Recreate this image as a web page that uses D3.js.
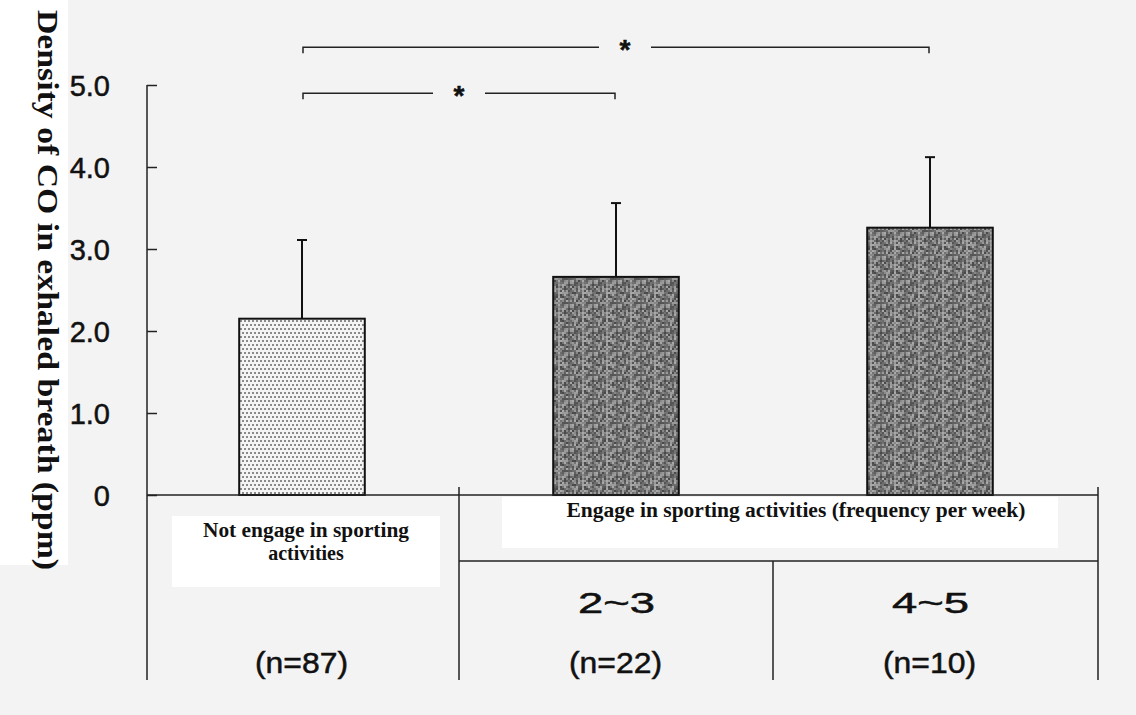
<!DOCTYPE html>
<html lang="en">
<head>
    <meta charset="UTF-8">
    <title>CO in exhaled breath</title>
    <script src="https://cdnjs.cloudflare.com/ajax/libs/d3/7.8.2/d3.min.js"></script>
    <style>
        body { margin: 0; background: #f3f3f3; }
        svg { display: block; }
        .num { font-family: "Liberation Sans Narrow", "Liberation Sans", Arial, sans-serif; fill: #111; stroke: #111; stroke-width: 0.5px; }
        .serif { font-family: "Liberation Serif", "Times New Roman", serif; font-weight: bold; fill: #111; }
    </style>
</head>
<body>
    <div class="container"></div>
    <script>
        // data
        const groups = ['none', '2~3', '4~5'];
        const means = [2.15, 2.66, 3.26];
        const errTops = [3.11, 3.56, 4.12];
        const nLabels = ['(n=87)', '(n=22)', '(n=10)'];
        const freqLabels = ['', '2~3', '4~5'];
        const yTicks = [0, 1, 2, 3, 4, 5];
        const yTickLabels = ['0', '1.0', '2.0', '3.0', '4.0', '5.0'];
        const sigPairs = [[0, 1], [0, 2]];
        const sigLevels = [4.9, 5.46];
        const sigMarks = ['*', '*'];

        let width = 1136;
        let height = 715;

        const svg = d3.select('.container').append('svg')
            .attr('width', width).attr('height', height);

        svg.append('rect').attr('width', width).attr('height', height).attr('fill', '#f3f3f3');
        // white strip behind the y title
        svg.append('rect').attr('x', 0).attr('y', 0).attr('width', 68).attr('height', 565).attr('fill', '#fff');

        const yScale = d3.scaleLinear().domain([0, 5]).range([495, 85]);
        const xScale = d3.scaleBand().domain(groups).range([145, 1087]).paddingInner(0.6).paddingOuter(0.3);
        const step = xScale.step();
        const cx = g => xScale(g) + xScale.bandwidth() / 2;

        // fills
        const defs = svg.append('defs');
        const dots = defs.append('pattern').attr('id', 'dots')
            .attr('patternUnits', 'userSpaceOnUse').attr('width', 8).attr('height', 8);
        dots.append('rect').attr('width', 8).attr('height', 8).attr('fill', '#f4f4f4');
        [[0, 0], [4, 0], [2, 4], [6, 4]].forEach(p => {
            dots.append('rect').attr('x', p[0]).attr('y', p[1]).attr('width', 2).attr('height', 2).attr('fill', '#8a8a8a');
        });

        const grain = defs.append('pattern').attr('id', 'grain')
            .attr('patternUnits', 'userSpaceOnUse').attr('width', 24).attr('height', 24);
        const greys = ['#555', '#9a9a9a', '#737373', '#a8a8a8', '#606060', '#888', '#4a4a4a', '#9c9c9c', '#6c6c6c'];
        for (let i = 0; i < 12; i++) {
            for (let j = 0; j < 12; j++) {
                grain.append('rect')
                    .attr('x', i * 2).attr('y', j * 2).attr('width', 2).attr('height', 2)
                    .attr('fill', greys[(i * 7 + j * 4 + (i * j) % 5) % greys.length]);
            }
        }

        // bars
        svg.selectAll('.bar')
            .data(groups)
            .enter()
            .append('rect')
            .attr('class', 'bar')
            .attr('x', d => xScale(d))
            .attr('y', (d, i) => yScale(means[i]))
            .attr('width', xScale.bandwidth())
            .attr('height', (d, i) => yScale(0) - yScale(means[i]))
            .attr('fill', (d, i) => i == 0 ? 'url(#dots)' : 'url(#grain)')
            .attr('stroke', '#111')
            .attr('stroke-width', 2);

        // error bars (upper only)
        svg.selectAll('.err')
            .data(groups)
            .enter()
            .append('line')
            .attr('x1', d => cx(d)).attr('x2', d => cx(d))
            .attr('y1', (d, i) => yScale(means[i]))
            .attr('y2', (d, i) => yScale(errTops[i]))
            .attr('stroke', '#111').attr('stroke-width', 2);
        svg.selectAll('.cap')
            .data(groups)
            .enter()
            .append('line')
            .attr('x1', d => cx(d) - 5).attr('x2', d => cx(d) + 5)
            .attr('y1', (d, i) => yScale(errTops[i]))
            .attr('y2', (d, i) => yScale(errTops[i]))
            .attr('stroke', '#111').attr('stroke-width', 2);

        // y axis
        const yAxis = d3.axisLeft(yScale)
            .tickValues(yTicks)
            .tickSize(-10)
            .tickPadding(37)
            .tickFormat((d, i) => yTickLabels[i]);
        const ax = svg.append('g').attr('transform', 'translate(147,0)').call(yAxis);
        ax.select('.domain').remove();
        ax.selectAll('.tick line').attr('stroke', '#222').attr('stroke-width', 1.5);
        ax.selectAll('.tick text')
            .attr('class', 'num')
            .style('font-size', '29px')
            .attr('dy', '0.36em');

        // table lines below the bars
        const tableBottom = 680;
        const xRight = 1098;
        const line = (x1, y1, x2, y2) => svg.append('line')
            .attr('x1', x1).attr('y1', y1).attr('x2', x2).attr('y2', y2)
            .attr('stroke', '#222').attr('stroke-width', 1.5);
        line(147, yScale(5), 147, tableBottom);
        line(147, yScale(0), xRight, yScale(0));
        const split1 = cx(groups[0]) + step / 2;
        const split2 = cx(groups[1]) + step / 2;
        line(split1, 487, split1, tableBottom);
        line(xRight, 487, xRight, tableBottom);
        line(split1, 561, xRight, 561);
        line(split2, 561, split2, tableBottom);

        // white label boxes
        svg.append('rect').attr('x', 172).attr('y', 516).attr('width', 268).attr('height', 71).attr('fill', '#fff');
        svg.append('rect').attr('x', 502).attr('y', 497).attr('width', 556).attr('height', 51).attr('fill', '#fff');

        svg.append('text').attr('class', 'serif').attr('x', 306).attr('y', 537)
            .attr('text-anchor', 'middle').style('font-size', '20px')
            .attr('textLength', 206).attr('lengthAdjust', 'spacingAndGlyphs')
            .text('Not engage in sporting');
        svg.append('text').attr('class', 'serif').attr('x', 306).attr('y', 560)
            .attr('text-anchor', 'middle').style('font-size', '20px')
            .text('activities');
        svg.append('text').attr('class', 'serif').attr('x', 796).attr('y', 517)
            .attr('text-anchor', 'middle').style('font-size', '20px')
            .attr('textLength', 459).attr('lengthAdjust', 'spacingAndGlyphs')
            .text('Engage in sporting activities (frequency per week)');

        // frequency and n labels
        svg.selectAll('.freq')
            .data(groups.filter((d, i) => freqLabels[i] != ''))
            .enter()
            .append('text')
            .attr('class', 'num')
            .attr('x', d => cx(d) - 38)
            .attr('y', 613)
            .style('font-size', '30px')
            .attr('textLength', 77).attr('lengthAdjust', 'spacingAndGlyphs')
            .text(d => freqLabels[groups.indexOf(d)]);

        svg.selectAll('.nlab')
            .data(groups)
            .enter()
            .append('text')
            .attr('class', 'num')
            .attr('x', d => cx(d) - 47)
            .attr('y', 673)
            .style('font-size', '29px')
            .attr('textLength', 93).attr('lengthAdjust', 'spacingAndGlyphs')
            .text((d, i) => nLabels[i]);

        // significance brackets
        const starShift = [0, 9];
        const gapHalf = 26;
        sigPairs.forEach((p, k) => {
            const x1 = cx(groups[p[0]]) + 1;
            const x2 = cx(groups[p[1]]) - 1;
            const y = yScale(sigLevels[k]);
            const sx = (x1 + x2) / 2 + starShift[k];
            const g = svg.append('g').attr('stroke', '#222').attr('stroke-width', 1.5).attr('fill', 'none');
            g.append('path').attr('d', `M${x1},${y + 6}V${y}H${sx - gapHalf}`);
            g.append('path').attr('d', `M${sx + gapHalf},${y}H${x2}V${y + 6}`);
            svg.append('text').attr('class', 'num')
                .attr('x', sx).attr('y', y + 12)
                .attr('text-anchor', 'middle')
                .style('font-size', '28px')
                .style('font-weight', 'bold')
                .text(sigMarks[k]);
        });

        // y title, reading downwards
        svg.append('text').attr('class', 'serif')
            .attr('transform', 'translate(38,290) rotate(90)')
            .attr('text-anchor', 'middle')
            .style('font-size', '30px')
            .attr('textLength', 560).attr('lengthAdjust', 'spacingAndGlyphs')
            .text('Density of CO in exhaled breath (ppm)');
    </script>
</body>
</html>
